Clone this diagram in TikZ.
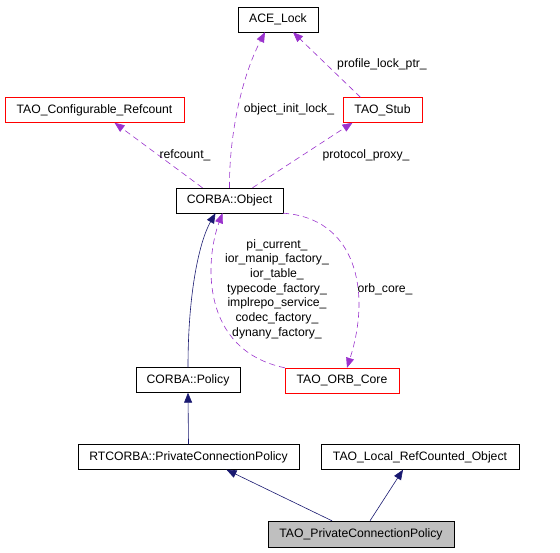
\documentclass[tikz,border=0pt]{standalone}
\usepackage{fontspec}
\setmainfont{Liberation Sans}
\usetikzlibrary{arrows.meta}
\definecolor{dep}{HTML}{9A32CD}
\definecolor{inh}{HTML}{191970}
\definecolor{grayfill}{HTML}{BFBFBF}
\begin{document}
\begin{tikzpicture}[x=1pt,y=-1pt,
  cls/.style={draw=black,rectangle,minimum height=25pt,inner sep=0pt,font=\fontsize{12.2}{14}\selectfont},
  redcls/.style={cls,draw=red},
  usedep/.style={draw=dep,dashed,dash pattern=on 6pt off 4pt,line width=0.6pt,-{Triangle[length=10pt,width=8pt,fill=dep]}},
  inherit/.style={draw=inh,line width=0.6pt,-{Triangle[length=10pt,width=8pt,fill=inh]}},
  lbl/.style={font=\fontsize{12.2}{14.7}\selectfont,inner sep=0pt,align=center}]
\useasboundingbox (0,0) rectangle (560,552);
\node[cls,minimum width=80pt] (ace) at (278,19.5) {ACE\_Lock};
\node[redcls,minimum width=179pt] (ref) at (94.5,110) {TAO\_Configurable\_Refcount};
\node[redcls,minimum width=79pt] (stub) at (382.5,110) {TAO\_Stub};
\node[cls,minimum width=107pt] (obj) at (229.5,200.5) {CORBA::Object};
\node[cls,minimum width=104pt] (pol) at (188,380) {CORBA::Policy};
\node[redcls,minimum width=114pt] (orb) at (342,380.5) {TAO\_ORB\_Core};
\node[cls,minimum width=221pt] (rt) at (188.5,457) {RTCORBA::PrivateConnectionPolicy};
\node[cls,minimum width=198pt] (loc) at (420,457) {TAO\_Local\_RefCounted\_Object};
\node[cls,minimum width=186pt,minimum height=26pt,fill=grayfill] (pcp) at (361,534) {TAO\_PrivateConnectionPolicy};
% dependency edges
\draw[usedep] (obj.north) .. controls (229,140) and (240,80) .. ([xshift=-13pt]ace.south);
\draw[usedep] ([xshift=-22pt]stub.north) -- ([xshift=15pt]ace.south);
\draw[usedep] ([xshift=-27pt]obj.north) -- ([xshift=20pt]ref.south);
\draw[usedep] ([xshift=23pt]obj.north) -- ([xshift=-30pt]stub.south);
\draw[usedep] (obj.south east) .. controls (355,218) and (372,290) .. ([xshift=5pt]orb.north);
\draw[usedep] (orb.north west) .. controls (200,350) and (205,260) .. ([xshift=-7pt]obj.south);
% inheritance edges
\draw[inherit] (pol.north) .. controls (188,290) and (200,240) .. ([xshift=-14pt]obj.south);
\draw[inherit] (rt.north) -- (pol.south);
\draw[inherit] ([xshift=-29pt]pcp.north) -- ([xshift=38pt]rt.south);
\draw[inherit] ([xshift=9pt]pcp.north) -- ([xshift=-17pt]loc.south);
% labels
\node[lbl] (l1) at (289,109) {object\_init\_lock\_};
\node[lbl] (l2) at (382,64) {profile\_lock\_ptr\_};
\node[lbl] (l3) at (185,155) {refcount\_};
\node[lbl] (l4) at (366,155) {protocol\_proxy\_};
\node[lbl] (l5) at (385,289) {orb\_core\_};
\node[lbl] (l6) at (277,289) {pi\_current\_\\ior\_manip\_factory\_\\ior\_table\_\\typecode\_factory\_\\implrepo\_service\_\\codec\_factory\_\\dynany\_factory\_};
\end{tikzpicture}
\end{document}
